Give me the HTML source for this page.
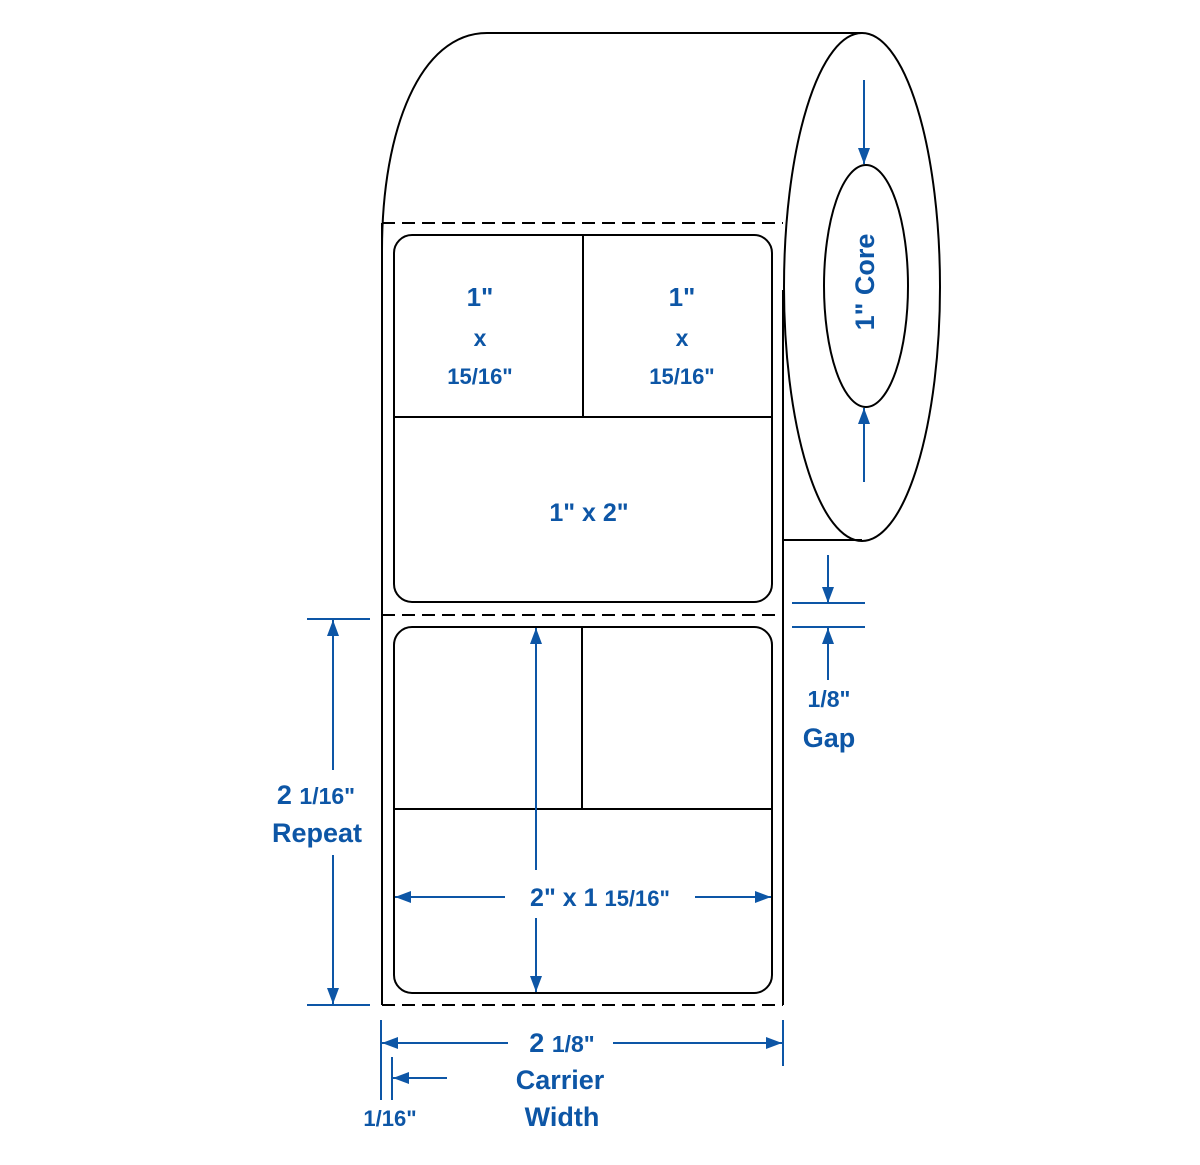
<!DOCTYPE html>
<html><head><meta charset="utf-8"><style>
html,body{margin:0;padding:0;background:#fff;}
svg{display:block;}
text{font-family:"Liberation Sans",Arial,sans-serif;font-weight:bold;fill:#0d56a6;}
</style></head><body>
<svg width="1200" height="1165" viewBox="0 0 1200 1165" xmlns="http://www.w3.org/2000/svg">
<defs>
<marker id="ab" viewBox="0 0 16 12" refX="16" refY="6" markerWidth="16" markerHeight="12" markerUnits="userSpaceOnUse" orient="auto-start-reverse">
<path d="M0,0 L16,6 L0,12 z" fill="#0d56a6"/></marker>
</defs>
<g fill="none" stroke="#000" stroke-width="2">
<path d="M382,250 C382,130 420,33 487,33 L862,33"/>
<ellipse cx="862" cy="287" rx="78" ry="254" fill="#fff"/>
<ellipse cx="866" cy="286" rx="42" ry="121"/>
<line x1="784" y1="540" x2="862" y2="540"/>
<line x1="382" y1="223" x2="382" y2="1005"/>
<line x1="783" y1="290" x2="783" y2="1005"/>
<g stroke-dasharray="13,7">
<line x1="382" y1="223" x2="783" y2="223"/>
<line x1="382" y1="615" x2="783" y2="615"/>
<line x1="382" y1="1005" x2="783" y2="1005"/>
</g>
<rect x="394" y="235" width="378" height="367" rx="18"/>
<line x1="583" y1="235" x2="583" y2="417"/>
<line x1="394" y1="417" x2="772" y2="417"/>
<rect x="394" y="627" width="378" height="366" rx="18"/>
<line x1="582" y1="627" x2="582" y2="809"/>
<line x1="394" y1="809" x2="772" y2="809"/>
</g>
<g stroke="#0d56a6" stroke-width="2" fill="none">
<line x1="864" y1="80" x2="864" y2="164" marker-end="url(#ab)"/>
<line x1="864" y1="482" x2="864" y2="408" marker-end="url(#ab)"/>
<line x1="828" y1="555" x2="828" y2="603" marker-end="url(#ab)"/>
<line x1="792" y1="603" x2="865" y2="603"/>
<line x1="792" y1="627" x2="865" y2="627"/>
<line x1="828" y1="680" x2="828" y2="628" marker-end="url(#ab)"/>
<line x1="307" y1="619" x2="370" y2="619"/>
<line x1="307" y1="1005" x2="370" y2="1005"/>
<line x1="333" y1="770" x2="333" y2="620" marker-end="url(#ab)"/>
<line x1="333" y1="855" x2="333" y2="1004" marker-end="url(#ab)"/>
<line x1="536" y1="870" x2="536" y2="628" marker-end="url(#ab)"/>
<line x1="536" y1="918" x2="536" y2="992" marker-end="url(#ab)"/>
<line x1="505" y1="897" x2="395" y2="897" marker-end="url(#ab)"/>
<line x1="695" y1="897" x2="771" y2="897" marker-end="url(#ab)"/>
<line x1="381" y1="1020" x2="381" y2="1100"/>
<line x1="392" y1="1057" x2="392" y2="1100"/>
<line x1="783" y1="1020" x2="783" y2="1066"/>
<line x1="508" y1="1043" x2="382" y2="1043" marker-end="url(#ab)"/>
<line x1="613" y1="1043" x2="782" y2="1043" marker-end="url(#ab)"/>
<line x1="447" y1="1078" x2="393" y2="1078" marker-end="url(#ab)"/>
</g>
<g text-anchor="middle">
<text x="480" y="306" font-size="26">1"</text>
<text x="480" y="346" font-size="23">x</text>
<text x="480" y="384" font-size="22">15/16"</text>
<text x="682" y="306" font-size="26">1"</text>
<text x="682" y="346" font-size="23">x</text>
<text x="682" y="384" font-size="22">15/16"</text>
<text x="589" y="521" font-size="25">1" x 2"</text>
<text x="600" y="906" font-size="25">2" x 1 <tspan font-size="22">15/16"</tspan></text>
<text x="316" y="804" font-size="27">2 <tspan font-size="23">1/16"</tspan></text>
<text x="317" y="842" font-size="27">Repeat</text>
<text x="829" y="707" font-size="23">1/8"</text>
<text x="829" y="747" font-size="27">Gap</text>
<text x="562" y="1052" font-size="27">2 <tspan font-size="23">1/8"</tspan></text>
<text x="560" y="1089" font-size="27">Carrier</text>
<text x="562" y="1126" font-size="27">Width</text>
<text x="390" y="1126" font-size="22">1/16"</text>
<text transform="translate(874,282) rotate(-90)" font-size="27">1" Core</text>
</g>
</svg>
</body></html>
